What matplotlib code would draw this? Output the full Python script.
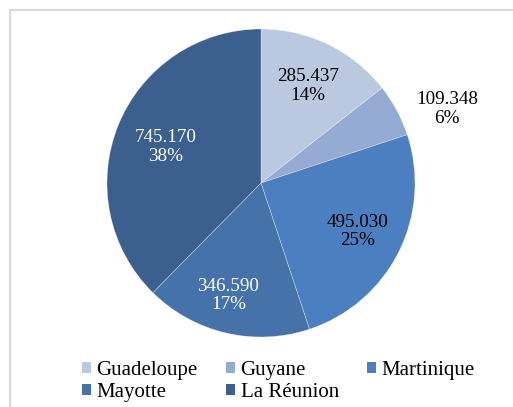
import matplotlib
matplotlib.use("Agg")
import matplotlib.pyplot as plt
from matplotlib.patches import Rectangle, Patch
import numpy as np

plt.rcParams['font.family'] = ['Liberation Serif', 'DejaVu Serif']

categories = ['Guadeloupe', 'Guyane', 'Martinique', 'Mayotte', 'La Réunion']
values = [285.437, 109.348, 495.030, 346.590, 745.170]
value_labels = ['285.437', '109.348', '495.030', '346.590', '745.170']
colors = ['#BAC8E0', '#96ABD3', '#4C7FBF', '#4572A8', '#3B5F8E']
text_colors = ['black', 'black', 'black', 'white', 'white']
label_dist = [0.70, 1.30, 0.70, 0.76, 0.66]
label_dang = [0, -6.5, 0, -3, 1.5]

W, H = 513, 407
fig = plt.figure(figsize=(W/100, H/100), dpi=100)
fig.patches.append(Rectangle((10/W, -0.1), 1.2, (H-10)/H + 0.1, transform=fig.transFigure,
                             fill=False, edgecolor='#D9D9D9', linewidth=1.5))

cx, cy, r = 261, 183, 154
ax = fig.add_axes([(cx-r)/W, (H-cy-r)/H, 2*r/W, 2*r/H])
wedges, _ = ax.pie(values, colors=colors, startangle=90, counterclock=False,
                   radius=1, wedgeprops=dict(linewidth=0.4, edgecolor='#FFFFFF80'))
ax.set_xlim(-1, 1); ax.set_ylim(-1, 1); ax.set_aspect('equal'); ax.axis('off')

total = sum(values)
for i, w in enumerate(wedges):
    ang = np.deg2rad((w.theta1 + w.theta2) / 2 + label_dang[i])
    d = label_dist[i]
    pct = round(values[i] / total * 100)
    ax.text(d*np.cos(ang), d*np.sin(ang), f"{value_labels[i]}\n{pct}%",
            ha='center', va='center', fontsize=13.8, color=text_colors[i],
            linespacing=1.1)

order = [0, 3, 1, 4, 2]
handles = [Patch(facecolor=colors[i], edgecolor='none') for i in order]
labels = [categories[i] for i in order]
fig.legend(handles, labels, ncol=3, loc='upper left', bbox_to_anchor=(82/W, (H-361)/H),
           frameon=False, fontsize=15, handlelength=0.45, handleheight=0.45,
           handletextpad=0.25, columnspacing=1.35, labelspacing=0.15, borderpad=0,
           borderaxespad=0)

fig.savefig('out.png', dpi=100)
